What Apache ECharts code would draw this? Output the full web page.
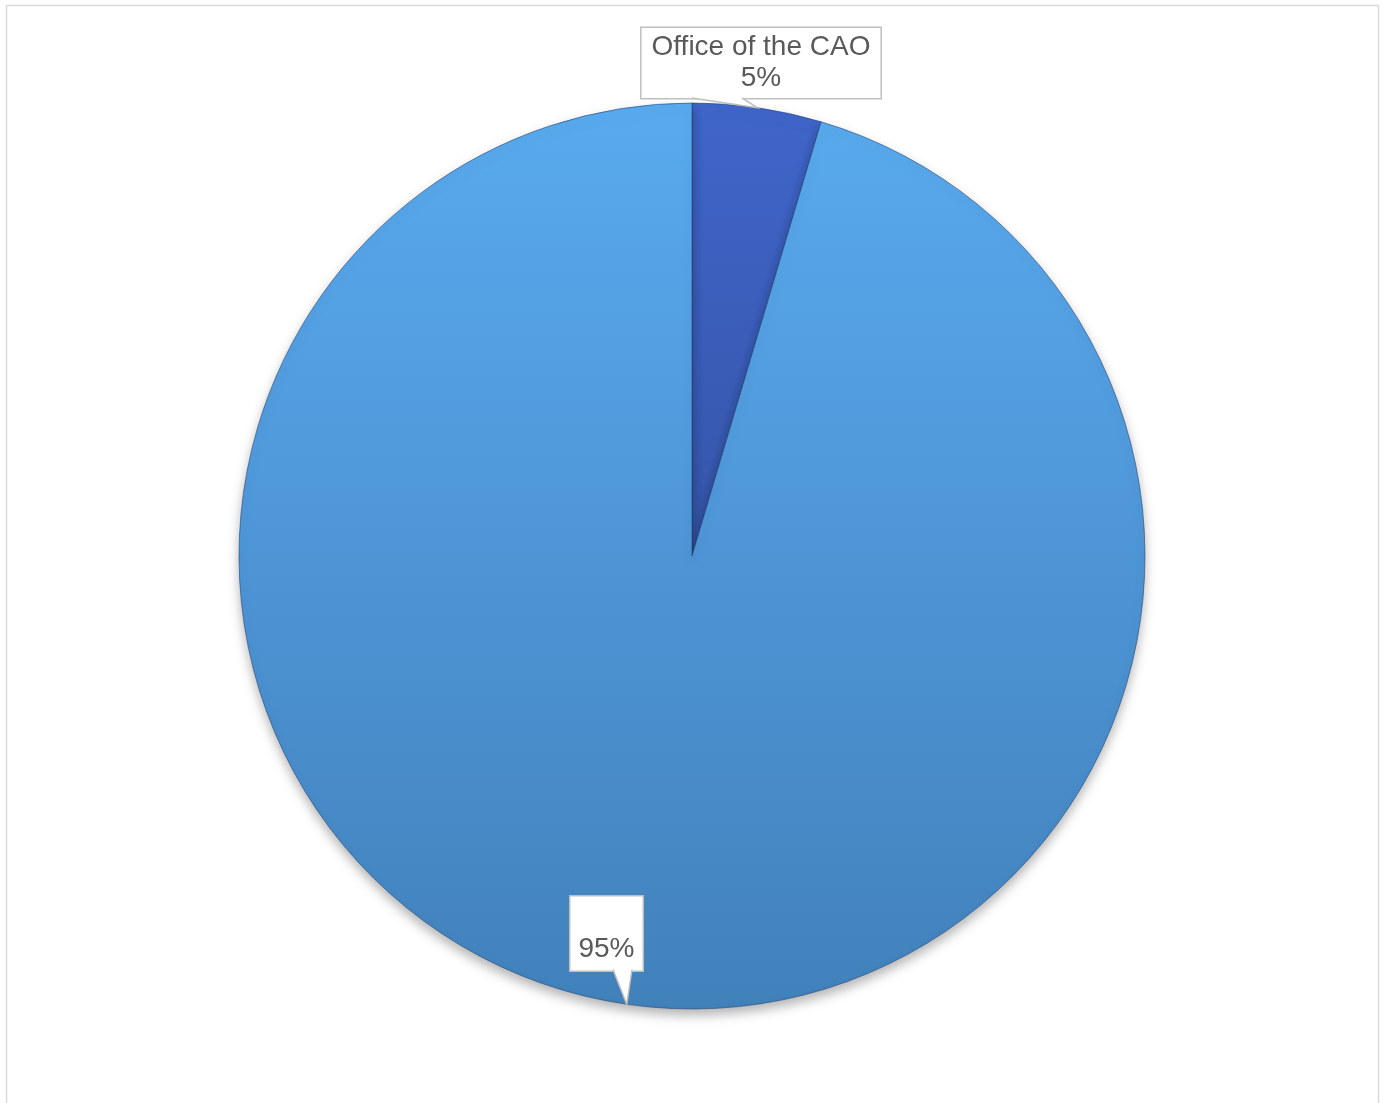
<!DOCTYPE html>
<html>
<head>
<meta charset="utf-8">
<script src="https://cdn.jsdelivr.net/npm/echarts@6/dist/echarts.min.js"></script>
<style>html,body{margin:0;padding:0;background:#fff;}#c{width:1385px;height:1103px;}</style>
</head>
<body>
<div id="c"></div>
<script>
var categories = ['Office of the CAO', ''];
var values = [4.6, 95.4];

var CX = 692, CY = 556, R = 453;
var chart = echarts.init(document.getElementById('c'));
var labelBase = {
  color: '#595959', fontSize: 28, fontFamily: 'Liberation Sans, Arial, sans-serif',
  lineHeight: 31, backgroundColor: '#fff', borderColor: '#BFBFBF', borderWidth: 1.5
};
var bigGrad = {type:'linear', x:0, y:103, x2:0, y2:1009, global:true,
  colorStops:[{offset:0,color:'#58AAEE'},{offset:0.5,color:'#4E95D6'},{offset:1,color:'#4181BA'}]};
var smallGrad = {type:'linear', x:0, y:103, x2:0, y2:560, global:true,
  colorStops:[{offset:0,color:'#4065CA'},{offset:1,color:'#3555A8'}]};

// anchor points on the rim at each slice's mid-angle (derived from data)
var total = values.reduce(function(a,b){return a+b;}, 0);
var tips = [], cum = 0;
values.forEach(function(v){
  var a = (cum + v/2) / total * 2 * Math.PI;
  tips.push([CX + R*Math.sin(a), CY - R*Math.cos(a)]);
  cum += v;
});
// callout pointer bases on label box edges
var bases = [[[692, 98], [742, 98]], [[613, 969.5], [632, 969.5]]];
var pointerGraphics = [];
bases.forEach(function(b, i){
  var pts = [b[0], tips[i], b[1]];
  pointerGraphics.push({type:'polygon', z: 100, shape:{points: pts}, style:{fill:'#fff'}});
  pointerGraphics.push({type:'polyline', z: 101, shape:{points: pts}, style:{fill:'none', stroke:'#BFBFBF', lineWidth:1.5}});
});

chart.setOption({
  animation: false,
  graphic: [{type:'rect', shape:{x:6.5, y:5.5, width:1372, height:1110}, style:{fill:'none', stroke:'#D9D9D9', lineWidth:1.5}}].concat(pointerGraphics),
  series: [{
    type: 'pie',
    center: [CX, CY],
    radius: R,
    startAngle: 90,
    clockwise: true,
    itemStyle: {borderColor: 'rgba(30,60,110,0.55)', borderWidth: 1, shadowBlur: 12, shadowOffsetY: 6, shadowColor: 'rgba(0,0,0,0.3)'},
    label: Object.assign({show: true, position: 'outside', formatter: function(p){
      return p.name + '\n' + Math.round(p.percent) + '%';
    }}, labelBase),
    labelLine: {show: false},
    labelLayout: function(p){
      if (p.dataIndex === 0) return {x: 761, y: 63, align: 'center', verticalAlign: 'middle'};
      return {x: 606.5, y: 933.5, align: 'center', verticalAlign: 'middle'};
    },
    emphasis: {disabled: true},
    data: [
      {name: categories[0], value: values[0], itemStyle: {color: smallGrad}, label: {padding: [4, 10, 4, 10]}},
      {name: categories[1], value: values[1], itemStyle: {color: bigGrad}, label: {padding: [8, 8, 4, 8]}}
    ]
  }]
});
</script>
</body>
</html>
